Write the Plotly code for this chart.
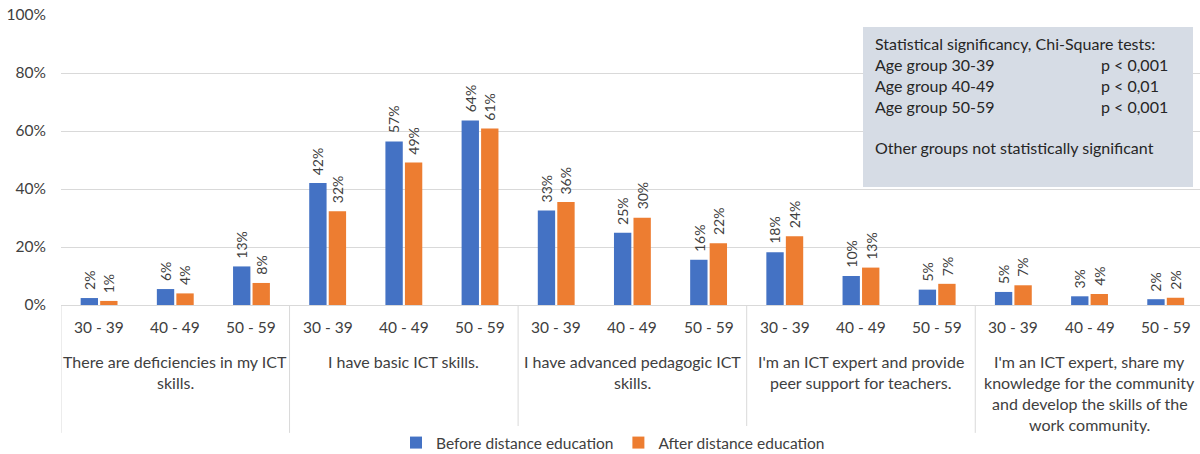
import plotly.graph_objects as go

groups = [
    ["There are deficiencies in my ICT", "skills."],
    ["I have basic ICT skills."],
    ["I have advanced pedagogic ICT", "skills."],
    ["I'm an ICT expert and provide", "peer support for teachers."],
    ["I'm an ICT expert, share my", "knowledge for the community", "and develop the skills of the", "work community."],
]
ages = ["30 - 39", "40 - 49", "50 - 59"]

before = [0.024, 0.055, 0.133,
          0.421, 0.564, 0.636,
          0.326, 0.249, 0.156,
          0.182, 0.100, 0.053,
          0.045, 0.030, 0.020]
after = [0.014, 0.040, 0.076,
         0.323, 0.491, 0.609,
         0.355, 0.301, 0.213,
         0.237, 0.129, 0.073,
         0.068, 0.038, 0.025]

before_labels = ["2%", "6%", "13%", "42%", "57%", "64%", "33%", "25%", "16%", "18%", "10%", "5%", "5%", "3%", "2%"]
after_labels = ["1%", "4%", "8%", "32%", "49%", "61%", "36%", "30%", "22%", "24%", "13%", "7%", "7%", "4%", "2%"]

box_title = "Statistical significancy, Chi-Square tests:"
box_rows = [("Age group 30-39", "p < 0,001"), ("Age group 40-49", "p < 0,01"), ("Age group 50-59", "p < 0,001")]
box_note = "Other groups not statistically significant"

BLUE = "#4472C4"
ORANGE = "#ED7D31"
TXT = "#404040"
FONT = "Lato"

n = len(before)
xs = list(range(n))
BARGAP = 0.488
slot = (1 - BARGAP) / 2

fig = go.Figure()
fig.add_trace(go.Bar(x=xs, y=before, name="Before distance education", marker_color=BLUE,
                     marker_line_width=0))
fig.add_trace(go.Bar(x=xs, y=after, name="After distance education", marker_color=ORANGE,
                     marker_line_width=0))

ann = []
# data labels
for i in range(n):
    for val, lab, off in ((before[i], before_labels[i], -slot / 2), (after[i], after_labels[i], slot / 2)):
        ann.append(dict(x=i + off, y=val, xref="x", yref="y", text=lab, showarrow=False,
                        textangle=-90, yanchor="bottom", xanchor="center", yshift=6,
                        font=dict(family=FONT, size=14, color=TXT)))
# age tick labels
for i in range(n):
    ann.append(dict(x=i, y=0, xref="x", yref="paper", text=ages[i % 3], showarrow=False,
                    yanchor="middle", xanchor="center", yshift=-22,
                    font=dict(family=FONT, size=15.5, color=TXT)))
# group labels
for g, lines in enumerate(groups):
    for k, line in enumerate(lines):
        ann.append(dict(x=3 * g + 1, y=0, xref="x", yref="paper", text=line, showarrow=False,
                        yanchor="middle", xanchor="center", yshift=-(56 + 21 * k),
                        font=dict(family=FONT, size=16, color=TXT)))

shapes = []
for b in range(len(groups)):
    shapes.append(dict(type="line", xref="x", yref="paper", x0=3 * b - 0.5, x1=3 * b - 0.5,
                       y0=0, y1=-0.441, line=dict(color="#D9D9D9", width=1)))

# significance box
L, W = 61, 1200 - 61
def px(p):
    return (p - L) / W
def py(p):
    return (305 - p) / 290

BOXTXT = "#262626"
shapes.append(dict(type="rect", xref="paper", yref="paper", x0=px(863), x1=px(1193),
                   y0=py(187), y1=py(27), fillcolor="#D6DCE5", line=dict(width=0), layer="above"))
lines_y = [43.5, 64.5, 85.5, 106.5]
ann.append(dict(x=px(873), y=py(lines_y[0]), xref="paper", yref="paper", text=box_title,
                showarrow=False, xanchor="left", yanchor="middle",
                font=dict(family=FONT, size=16, color=BOXTXT)))
for k, (a, b) in enumerate(box_rows):
    ann.append(dict(x=px(873), y=py(lines_y[k + 1]), xref="paper", yref="paper", text=a,
                    showarrow=False, xanchor="left", yanchor="middle",
                    font=dict(family=FONT, size=16, color=BOXTXT)))
    ann.append(dict(x=px(1099), y=py(lines_y[k + 1]), xref="paper", yref="paper", text=b,
                    showarrow=False, xanchor="left", yanchor="middle",
                    font=dict(family=FONT, size=16, color=BOXTXT)))
ann.append(dict(x=px(873), y=py(147.5), xref="paper", yref="paper", text=box_note,
                showarrow=False, xanchor="left", yanchor="middle",
                font=dict(family=FONT, size=16, color=BOXTXT)))

fig.update_layout(
    width=1200, height=454,
    margin=dict(l=L, r=0, t=15, b=149, autoexpand=False),
    plot_bgcolor="white", paper_bgcolor="white",
    barmode="group", bargap=BARGAP, bargroupgap=0.11,
    font=dict(family=FONT, size=15, color=TXT),
    xaxis=dict(range=[-0.5, 14.45], showticklabels=False, showgrid=False, zeroline=False,
               showline=True, linecolor="#D9D9D9", linewidth=1, ticks="", automargin=False),
    yaxis=dict(range=[0, 1], tickvals=[0, 0.2, 0.4, 0.6, 0.8, 1.0], tickformat=".0%",
               showgrid=True, gridcolor="#D9D9D9", gridwidth=1, zeroline=False, automargin=False,
               ticks="", ticklabelstandoff=14, tickfont=dict(family=FONT, size=15.5, color=TXT)),
    legend=dict(orientation="h", x=px(613), xanchor="center", y=py(443), yanchor="middle",
                font=dict(family=FONT, size=15.5, color=TXT), itemwidth=30, traceorder="normal"),
    annotations=ann, shapes=shapes,
)

fig.write_html("out.html", config={"displayModeBar": False},
               post_script="document.body.style.margin='0';document.body.style.padding='0';")
